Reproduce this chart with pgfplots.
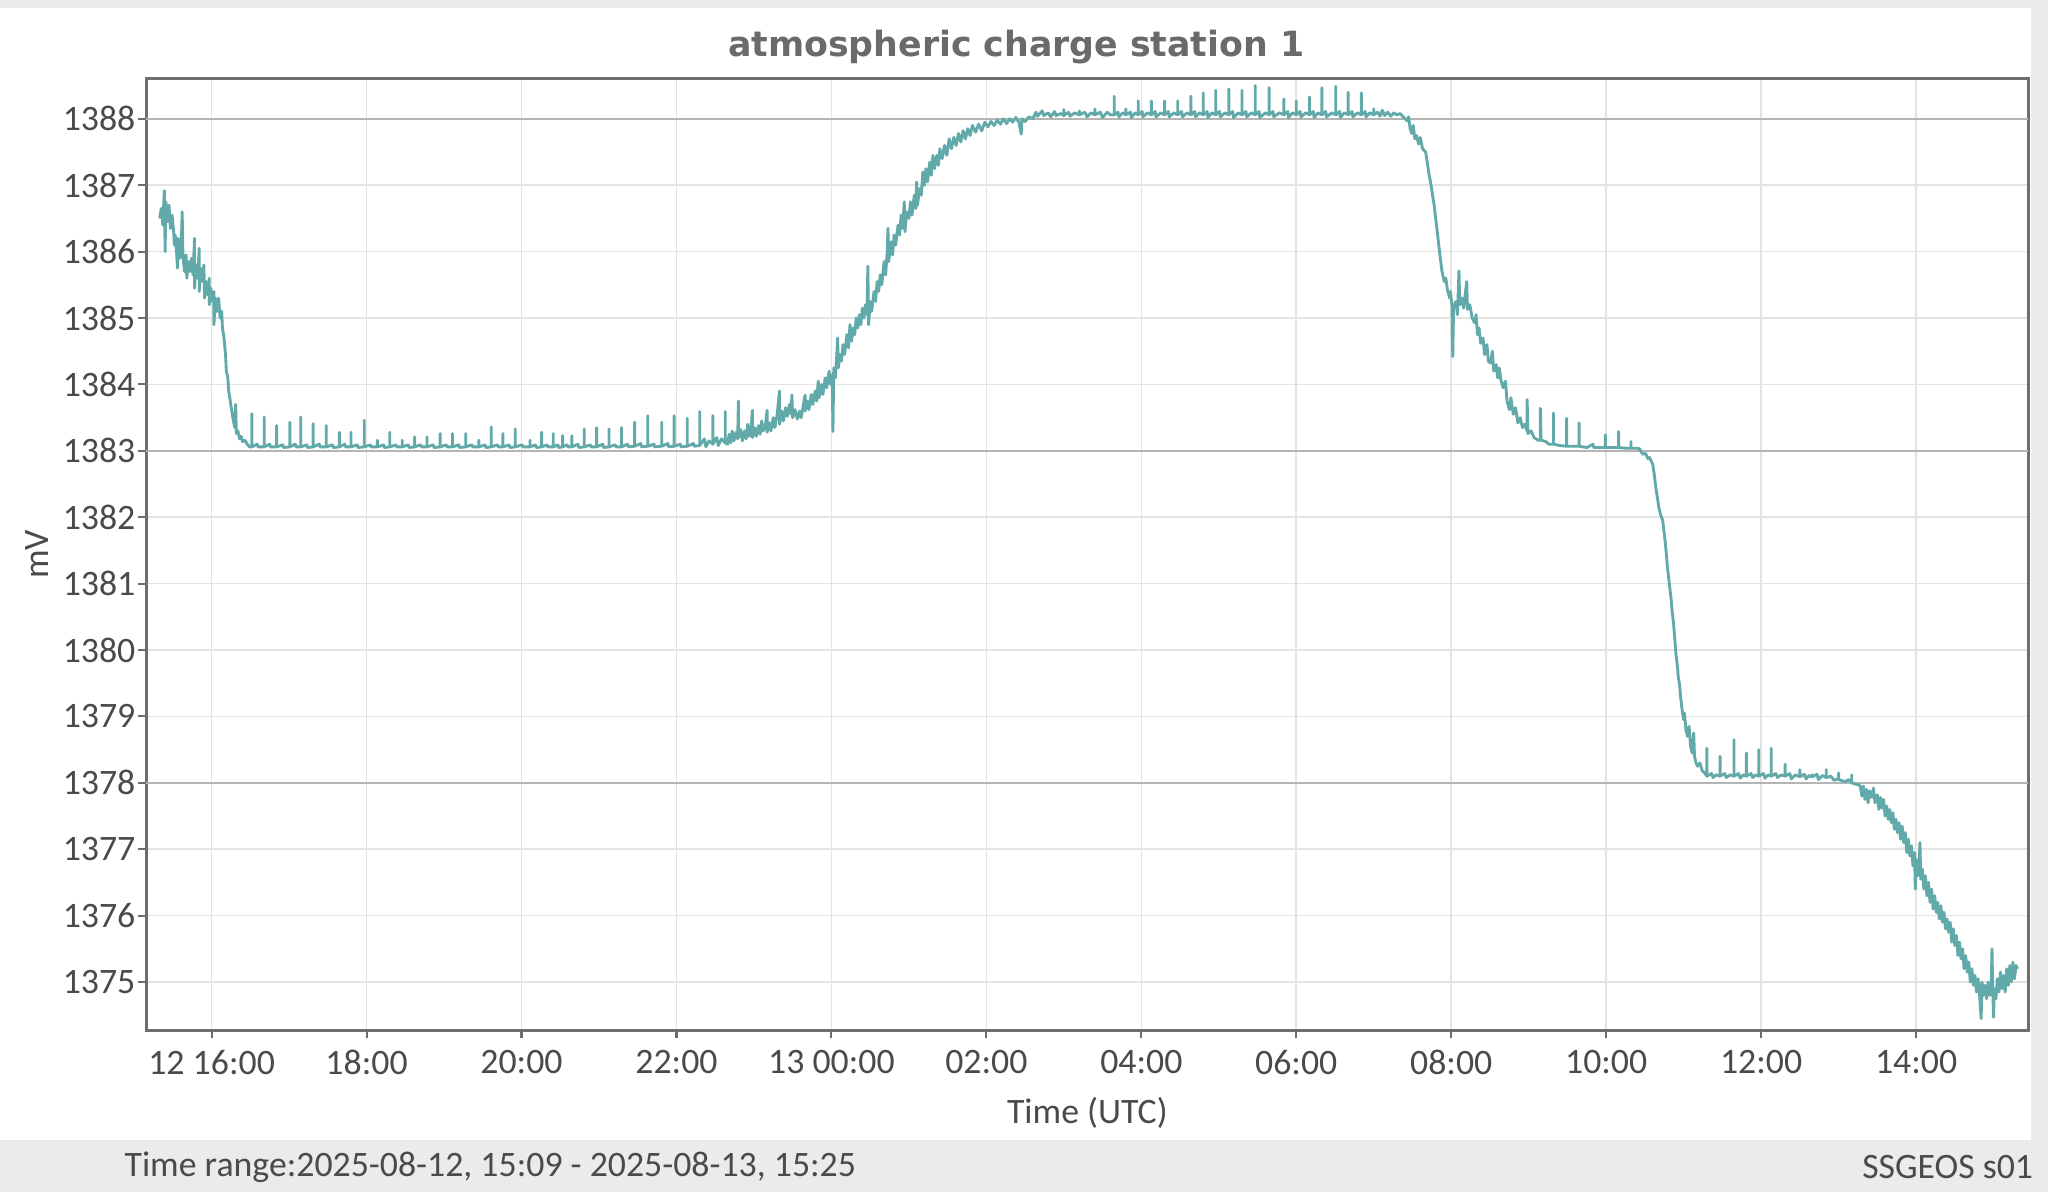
\documentclass[border=0pt]{standalone}
\usepackage{fontspec}
\usepackage{pgfplots}
\pgfplotsset{compat=1.18}
\setmainfont{Carlito}
\newfontfamily\titlefont{DejaVu Sans}

\definecolor{bggray}{HTML}{EBEBEB}
\definecolor{axgray}{HTML}{6E6E6E}
\definecolor{gridlight}{HTML}{E3E3E3}
\definecolor{gridmajor}{HTML}{B4B4B4}
\definecolor{labelgray}{HTML}{4A4A4A}
\definecolor{titlegray}{HTML}{6A6A6A}
\definecolor{trace}{HTML}{62A9A9}

\newcommand\lblfont{\fontsize{13.7}{16}\selectfont}

\begin{document}
\begin{tikzpicture}
\useasboundingbox (0,0) rectangle (784pt,456.5pt);
\fill[bggray] (0,0) rectangle (784pt,456.5pt);
\fill[white] (0,20pt) rectangle (777.5pt,453.5pt);
\node[font=\titlefont\bfseries\fontsize{13.3}{16}\selectfont, text=titlegray] at (389pt,438.5pt) {atmospheric charge station 1};
\node[anchor=west, font=\lblfont, text=labelgray, inner sep=0pt] at (47.5pt,9.8pt) {Time range:2025-08-12, 15:09 - 2025-08-13, 15:25};
\node[anchor=east, font=\lblfont, text=labelgray, inner sep=0pt] at (778.5pt,9.8pt) {SSGEOS s01};

\begin{axis}[
    at={(56pt,62pt)}, anchor=south west,
    scale only axis,
    width=720.5pt, height=364.5pt,
    xmin=15.157, xmax=39.45,
    ymin=1374.27, ymax=1388.61,
    xtick={16,18,...,38},
    xticklabels={12 16:00,18:00,20:00,22:00,13 00:00,02:00,04:00,06:00,08:00,10:00,12:00,14:00},
    ytick={1375,1376,...,1388},
    extra y ticks={1378,1383,1388},
    extra y tick labels={},
    extra y tick style={grid style={draw=gridmajor, line width=0.7pt}},
    scaled y ticks=false,
    /pgf/number format/.cd, 1000 sep={}, assume math mode=true,
    /pgfplots/.cd,
    tick align=outside, tick pos=left,
    major tick length=3pt,
    grid=major,
    grid style={draw=gridlight, line width=0.6pt},
    axis line style={draw=axgray, line width=1pt},
    tick style={draw=axgray, line width=0.8pt},
    ticklabel style={font=\lblfont, text=labelgray},
    yticklabel style={inner xsep=1pt},
    xticklabel style={yshift=-1pt},
    xlabel={Time (UTC)},
    ylabel={mV},
    label style={font=\lblfont, text=labelgray},
    xlabel style={at={(axis description cs:0.5,-0.0864)}, anchor=center},
    ylabel style={at={(axis description cs:-0.0583,0.5)}, anchor=center},
  ]
\addplot[trace, line width=1.1pt, line join=round] coordinates {
(15.33,1386.50) (15.35,1386.65) (15.37,1386.40) (15.39,1386.92) (15.40,1386.00) (15.41,1386.75)
(15.43,1386.45) (15.45,1386.70) (15.47,1386.35) (15.49,1386.55) (15.51,1386.30) (15.52,1386.10)
(15.53,1386.25) (15.55,1385.95) (15.56,1385.75) (15.57,1386.20) (15.59,1385.90) (15.61,1386.15)
(15.62,1386.60) (15.63,1385.95) (15.65,1385.70) (15.67,1385.95) (15.68,1385.60) (15.70,1385.85)
(15.72,1385.70) (15.74,1385.90) (15.76,1385.65) (15.78,1386.20) (15.78,1385.45) (15.80,1385.80)
(15.82,1385.60) (15.84,1386.05) (15.84,1385.40) (15.86,1385.75) (15.88,1385.55) (15.90,1385.80)
(15.91,1385.30) (15.93,1385.55) (15.95,1385.35) (15.97,1385.60) (15.97,1385.20) (15.99,1385.45)
(16.01,1385.25) (16.03,1385.40) (16.03,1384.90) (16.05,1385.30) (16.07,1385.10) (16.09,1385.30)
(16.11,1385.00) (16.13,1385.10) (16.14,1384.85) (16.16,1384.70) (16.18,1384.45) (16.19,1384.20)
(16.21,1384.10) (16.22,1383.90) (16.24,1383.76) (16.26,1383.60) (16.28,1383.46) (16.30,1383.35)
(16.31,1383.70) (16.32,1383.26) (16.34,1383.30) (16.36,1383.18) (16.38,1383.22) (16.40,1383.14)
(16.43,1383.16) (16.46,1383.10) (16.49,1383.06)
(16.52,1383.06) (16.52,1383.56) (16.52,1383.06) (16.59,1383.10) (16.60,1383.06)
(16.68,1383.06) (16.68,1383.51) (16.68,1383.06) (16.75,1383.10) (16.76,1383.06)
(16.84,1383.06) (16.84,1383.38) (16.84,1383.06) (16.92,1383.09) (16.93,1383.05)
(17.01,1383.06) (17.01,1383.43) (17.01,1383.06) (17.08,1383.10) (17.09,1383.06)
(17.15,1383.06) (17.15,1383.51) (17.15,1383.06) (17.23,1383.09) (17.24,1383.05)
(17.31,1383.06) (17.31,1383.41) (17.31,1383.06) (17.39,1383.10) (17.40,1383.06)
(17.48,1383.06) (17.48,1383.38) (17.48,1383.06) (17.56,1383.09) (17.57,1383.05)
(17.65,1383.06) (17.65,1383.28) (17.65,1383.06) (17.72,1383.10) (17.73,1383.06)
(17.80,1383.06) (17.80,1383.28) (17.80,1383.06) (17.88,1383.09) (17.89,1383.05)
(17.97,1383.06) (17.97,1383.46) (17.97,1383.06) (18.05,1383.09) (18.06,1383.06)
(18.14,1383.06) (18.14,1383.16) (18.14,1383.06) (18.22,1383.09) (18.23,1383.05)
(18.30,1383.06) (18.30,1383.28) (18.30,1383.06) (18.38,1383.09) (18.39,1383.06)
(18.46,1383.06) (18.46,1383.16) (18.46,1383.06) (18.54,1383.09) (18.55,1383.05)
(18.62,1383.06) (18.62,1383.21) (18.62,1383.06) (18.70,1383.09) (18.71,1383.06)
(18.78,1383.06) (18.78,1383.21) (18.78,1383.06) (18.86,1383.09) (18.87,1383.05)
(18.95,1383.06) (18.95,1383.26) (18.95,1383.06) (19.03,1383.09) (19.04,1383.06)
(19.11,1383.06) (19.11,1383.26) (19.11,1383.06) (19.19,1383.09) (19.20,1383.05)
(19.28,1383.06) (19.28,1383.26) (19.28,1383.06) (19.36,1383.09) (19.37,1383.06)
(19.45,1383.06) (19.45,1383.16) (19.45,1383.06) (19.53,1383.09) (19.54,1383.05)
(19.61,1383.06) (19.61,1383.36) (19.61,1383.06) (19.69,1383.09) (19.70,1383.06)
(19.76,1383.06) (19.76,1383.26) (19.76,1383.06) (19.84,1383.09) (19.85,1383.05)
(19.92,1383.06) (19.92,1383.33) (19.92,1383.06) (20.01,1383.09) (20.02,1383.06)
(20.11,1383.06) (20.11,1383.16) (20.11,1383.06) (20.18,1383.09) (20.19,1383.05)
(20.26,1383.06) (20.26,1383.28) (20.26,1383.06) (20.33,1383.09) (20.34,1383.06)
(20.41,1383.06) (20.41,1383.26) (20.41,1383.06) (20.47,1383.09) (20.48,1383.05)
(20.53,1383.06) (20.53,1383.23) (20.53,1383.06) (20.59,1383.09) (20.60,1383.06)
(20.65,1383.06) (20.65,1383.23) (20.65,1383.06) (20.73,1383.10) (20.74,1383.05)
(20.81,1383.06) (20.81,1383.33) (20.81,1383.06) (20.89,1383.09) (20.90,1383.06)
(20.97,1383.06) (20.97,1383.35) (20.97,1383.06) (21.05,1383.10) (21.06,1383.05)
(21.13,1383.06) (21.13,1383.33) (21.13,1383.06) (21.21,1383.09) (21.22,1383.06)
(21.29,1383.06) (21.29,1383.35) (21.29,1383.06) (21.37,1383.10) (21.38,1383.06)
(21.46,1383.07) (21.46,1383.43) (21.46,1383.07) (21.54,1383.11) (21.55,1383.06)
(21.63,1383.07) (21.63,1383.53) (21.63,1383.07) (21.71,1383.10) (21.72,1383.06)
(21.81,1383.07) (21.81,1383.43) (21.81,1383.07) (21.89,1383.11) (21.90,1383.06)
(21.97,1383.07) (21.97,1383.53) (21.97,1383.07) (22.05,1383.10) (22.06,1383.06)
(22.14,1383.07) (22.14,1383.49) (22.14,1383.07) (22.22,1383.11) (22.23,1383.07)
(22.30,1383.08) (22.30,1383.59) (22.30,1383.08) (22.36,1383.18) (22.38,1383.06) (22.42,1383.15)
(22.47,1383.10) (22.47,1383.53) (22.47,1383.10) (22.52,1383.20) (22.54,1383.08) (22.58,1383.18)
(22.63,1383.12) (22.63,1383.59) (22.63,1383.12)
(22.66,1383.10) (22.68,1383.25) (22.70,1383.12) (22.72,1383.30) (22.74,1383.15) (22.77,1383.28)
(22.79,1383.18) (22.80,1383.75) (22.80,1383.20) (22.83,1383.32) (22.85,1383.15) (22.88,1383.30)
(22.90,1383.18) (22.92,1383.40) (22.94,1383.22) (22.96,1383.30) (22.98,1383.61) (22.98,1383.20)
(23.01,1383.35) (23.03,1383.22) (23.06,1383.38) (23.08,1383.25) (23.10,1383.45) (23.12,1383.30)
(23.15,1383.40) (23.17,1383.61) (23.17,1383.28) (23.20,1383.42) (23.22,1383.30) (23.25,1383.50)
(23.27,1383.35) (23.30,1383.55) (23.33,1383.90) (23.33,1383.40) (23.36,1383.60) (23.38,1383.45)
(23.41,1383.65) (23.43,1383.52) (23.46,1383.70) (23.48,1383.55) (23.49,1383.84) (23.50,1383.50)
(23.53,1383.62) (23.56,1383.48) (23.59,1383.60) (23.61,1383.50) (23.64,1383.70) (23.66,1383.84)
(23.66,1383.60) (23.69,1383.75) (23.71,1383.62) (23.74,1383.85) (23.76,1383.70) (23.79,1383.90)
(23.81,1383.75) (23.83,1384.05) (23.84,1383.80) (23.87,1384.00) (23.89,1383.85) (23.92,1384.10)
(23.94,1383.95) (23.97,1384.20) (23.99,1384.00) (24.01,1384.15) (24.02,1383.29) (24.03,1384.25)
(24.05,1384.10) (24.07,1384.45) (24.08,1384.70) (24.09,1384.25) (24.11,1384.45) (24.13,1384.35)
(24.15,1384.60) (24.17,1384.45) (24.20,1384.75) (24.22,1384.55) (24.24,1384.90) (24.26,1384.65)
(24.28,1384.85) (24.30,1384.75) (24.32,1385.00) (24.34,1384.85) (24.36,1385.05) (24.38,1384.90)
(24.40,1385.15) (24.42,1385.00) (24.44,1385.20) (24.46,1385.05) (24.47,1385.78) (24.48,1384.90)
(24.50,1385.25) (24.52,1385.10) (24.55,1385.40) (24.57,1385.25) (24.59,1385.55) (24.61,1385.40)
(24.63,1385.65) (24.65,1385.50) (24.68,1385.85) (24.70,1385.65) (24.72,1386.00) (24.73,1386.35)
(24.74,1385.85) (24.77,1386.15) (24.79,1385.95) (24.81,1386.25) (24.83,1386.10) (24.86,1386.40)
(24.88,1386.25) (24.90,1386.55) (24.92,1386.35) (24.94,1386.75) (24.95,1386.30) (24.97,1386.60)
(25.00,1386.50) (25.02,1386.75) (25.04,1386.55) (25.07,1386.85) (25.09,1386.65) (25.10,1387.05)
(25.11,1386.70) (25.14,1386.95) (25.16,1386.85) (25.18,1387.20) (25.20,1387.00) (25.22,1387.25)
(25.24,1387.05) (25.27,1387.35) (25.29,1387.15) (25.31,1387.45) (25.33,1387.25) (25.36,1387.45)
(25.38,1387.30) (25.40,1387.55) (25.43,1387.40) (25.46,1387.60) (25.49,1387.45) (25.52,1387.70)
(25.55,1387.55) (25.58,1387.72) (25.61,1387.60) (25.64,1387.78) (25.67,1387.65) (25.70,1387.82)
(25.73,1387.70) (25.76,1387.85) (25.79,1387.75) (25.82,1387.90) (25.86,1387.80) (25.90,1387.92)
(25.94,1387.82) (25.98,1387.95) (26.02,1387.88) (26.06,1387.96) (26.10,1387.90) (26.14,1387.98)
(26.18,1387.92) (26.22,1388.00) (26.26,1387.93) (26.30,1388.00) (26.34,1387.95) (26.38,1388.02)
(26.42,1387.95) (26.45,1387.77) (26.46,1388.00) (26.50,1387.96) (26.55,1388.03) (26.60,1388.00)
(26.64,1388.10) (26.66,1388.04) (26.72,1388.12) (26.74,1388.05) (26.80,1388.09) (26.83,1388.03)
(26.88,1388.11) (26.90,1388.05) (26.96,1388.08) (27.00,1388.05) (27.00,1388.14) (27.00,1388.05)
(27.06,1388.10) (27.08,1388.04) (27.14,1388.09) (27.20,1388.06) (27.20,1388.12) (27.20,1388.06)
(27.27,1388.10) (27.30,1388.03) (27.35,1388.09) (27.40,1388.06) (27.40,1388.15) (27.40,1388.06)
(27.47,1388.10) (27.50,1388.02) (27.56,1388.10) (27.60,1388.06)
(27.65,1388.06) (27.65,1388.34) (27.65,1388.06) (27.70,1388.10) (27.71,1388.03) (27.76,1388.09)
(27.80,1388.06) (27.80,1388.15) (27.80,1388.06) (27.86,1388.10) (27.87,1388.02) (27.92,1388.09)
(27.96,1388.06) (27.96,1388.27) (27.96,1388.06) (28.01,1388.11) (28.02,1388.03) (28.08,1388.09)
(28.13,1388.06) (28.13,1388.27) (28.13,1388.06) (28.18,1388.11) (28.19,1388.03) (28.25,1388.09)
(28.30,1388.06) (28.30,1388.27) (28.30,1388.06) (28.35,1388.11) (28.36,1388.03) (28.42,1388.09)
(28.47,1388.06) (28.47,1388.27) (28.47,1388.06) (28.52,1388.11) (28.53,1388.03) (28.59,1388.09)
(28.64,1388.06) (28.64,1388.34) (28.64,1388.06) (28.69,1388.11) (28.70,1388.03) (28.75,1388.09)
(28.80,1388.06) (28.80,1388.39) (28.80,1388.06) (28.85,1388.11) (28.86,1388.02) (28.91,1388.09)
(28.96,1388.06) (28.96,1388.43) (28.96,1388.06) (29.01,1388.11) (29.02,1388.03) (29.08,1388.09)
(29.13,1388.06) (29.13,1388.45) (29.13,1388.06) (29.18,1388.11) (29.19,1388.02) (29.25,1388.09)
(29.30,1388.06) (29.30,1388.43) (29.30,1388.06) (29.35,1388.11) (29.36,1388.03) (29.42,1388.09)
(29.47,1388.06) (29.47,1388.50) (29.47,1388.06) (29.52,1388.11) (29.53,1388.02) (29.60,1388.09)
(29.65,1388.06) (29.65,1388.47) (29.65,1388.06) (29.70,1388.11) (29.71,1388.03) (29.78,1388.09)
(29.84,1388.06) (29.84,1388.30) (29.84,1388.06) (29.89,1388.11) (29.90,1388.02) (29.95,1388.09)
(30.00,1388.06) (30.00,1388.27) (30.00,1388.06) (30.05,1388.11) (30.06,1388.03) (30.12,1388.09)
(30.17,1388.06) (30.17,1388.33) (30.17,1388.06) (30.22,1388.11) (30.23,1388.02) (30.28,1388.09)
(30.33,1388.06) (30.33,1388.47) (30.33,1388.06) (30.38,1388.11) (30.39,1388.03) (30.46,1388.09)
(30.51,1388.06) (30.51,1388.49) (30.51,1388.06) (30.56,1388.11) (30.57,1388.02) (30.62,1388.09)
(30.67,1388.06) (30.67,1388.40) (30.67,1388.06) (30.72,1388.11) (30.73,1388.03) (30.79,1388.09)
(30.84,1388.06) (30.84,1388.39) (30.84,1388.06) (30.89,1388.11) (30.90,1388.03) (30.95,1388.09)
(31.00,1388.06) (31.00,1388.15) (31.00,1388.06) (31.05,1388.10) (31.08,1388.04) (31.11,1388.13)
(31.14,1388.05) (31.18,1388.10) (31.22,1388.04) (31.26,1388.09) (31.30,1388.06) (31.34,1388.08)
(31.39,1388.02) (31.43,1387.97) (31.45,1388.03) (31.47,1387.85) (31.49,1387.78) (31.51,1387.90)
(31.53,1387.70) (31.55,1387.75) (31.58,1387.62) (31.60,1387.72) (31.63,1387.55) (31.67,1387.50)
(31.69,1387.35) (31.71,1387.19) (31.74,1387.00) (31.76,1386.84) (31.78,1386.70) (31.80,1386.49)
(31.82,1386.30) (31.84,1386.09) (31.86,1385.90) (31.88,1385.71) (31.91,1385.55) (31.93,1385.60)
(31.95,1385.43) (31.98,1385.30) (31.99,1385.40) (32.01,1385.18) (32.02,1384.42) (32.03,1385.15)
(32.06,1385.25) (32.08,1385.05) (32.10,1385.71) (32.11,1385.20) (32.14,1385.30) (32.16,1385.15)
(32.18,1385.35) (32.20,1385.55) (32.21,1385.13) (32.24,1385.20) (32.27,1385.00) (32.30,1384.93)
(32.32,1385.05) (32.34,1384.75) (32.36,1384.85) (32.38,1384.62) (32.41,1384.70) (32.43,1384.45)
(32.46,1384.60) (32.48,1384.35) (32.51,1384.32) (32.53,1384.50) (32.55,1384.20) (32.58,1384.30)
(32.60,1384.10) (32.62,1384.25) (32.64,1384.07) (32.67,1383.95) (32.70,1384.05) (32.72,1383.75)
(32.75,1383.62) (32.77,1383.80) (32.80,1383.55) (32.83,1383.65) (32.86,1383.42) (32.89,1383.50)
(32.92,1383.35) (32.95,1383.40) (32.98,1383.30) (32.98,1383.77) (32.99,1383.26) (33.03,1383.30)
(33.07,1383.20) (33.12,1383.16) (33.15,1383.16) (33.15,1383.64) (33.16,1383.16) (33.22,1383.14)
(33.26,1383.10) (33.32,1383.10) (33.32,1383.57) (33.32,1383.10) (33.40,1383.08) (33.49,1383.07)
(33.49,1383.49) (33.49,1383.07) (33.56,1383.07) (33.65,1383.07) (33.65,1383.42) (33.65,1383.07)
(33.75,1383.05) (33.83,1383.10) (33.84,1383.05) (33.90,1383.05) (33.99,1383.05) (33.99,1383.24)
(33.99,1383.05) (34.08,1383.05) (34.16,1383.05) (34.16,1383.29) (34.16,1383.05) (34.25,1383.04)
(34.32,1383.04) (34.32,1383.14) (34.32,1383.04) (34.40,1383.04) (34.43,1383.03) (34.47,1382.95)
(34.51,1382.96) (34.54,1382.88) (34.56,1382.90) (34.58,1382.85) (34.60,1382.80) (34.62,1382.65)
(34.64,1382.45) (34.66,1382.30) (34.68,1382.15) (34.70,1382.05) (34.73,1381.95) (34.74,1381.85)
(34.76,1381.65) (34.78,1381.40) (34.79,1381.25) (34.81,1381.05) (34.82,1380.95) (34.84,1380.75)
(34.85,1380.60) (34.87,1380.40) (34.88,1380.25) (34.89,1380.10) (34.90,1379.95) (34.92,1379.75)
(34.93,1379.60) (34.95,1379.45) (34.96,1379.30) (34.98,1379.10) (35.00,1378.95) (35.01,1379.05)
(35.03,1378.80) (35.05,1378.70) (35.07,1378.85) (35.09,1378.55) (35.11,1378.45) (35.13,1378.75)
(35.14,1378.40) (35.16,1378.30) (35.18,1378.25) (35.21,1378.30) (35.24,1378.18) (35.27,1378.15)
(35.30,1378.10) (35.30,1378.52) (35.30,1378.10) (35.36,1378.14) (35.38,1378.08) (35.42,1378.12)
(35.47,1378.10) (35.47,1378.40) (35.47,1378.10) (35.53,1378.14) (35.55,1378.08) (35.60,1378.12)
(35.65,1378.10) (35.65,1378.65) (35.65,1378.10) (35.71,1378.14) (35.73,1378.07) (35.77,1378.12)
(35.81,1378.10) (35.81,1378.45) (35.81,1378.10) (35.87,1378.14) (35.89,1378.08) (35.93,1378.12)
(35.97,1378.10) (35.97,1378.50) (35.97,1378.10) (36.03,1378.14) (36.05,1378.07) (36.09,1378.12)
(36.13,1378.10) (36.13,1378.52) (36.13,1378.10) (36.19,1378.14) (36.21,1378.08) (36.26,1378.12)
(36.31,1378.10) (36.31,1378.28) (36.31,1378.10) (36.37,1378.14) (36.39,1378.06) (36.44,1378.12)
(36.50,1378.09) (36.50,1378.20) (36.50,1378.09) (36.56,1378.13) (36.58,1378.06) (36.62,1378.11)
(36.66,1378.09) (36.66,1378.12) (36.66,1378.09) (36.72,1378.13) (36.74,1378.05) (36.79,1378.11)
(36.84,1378.08) (36.84,1378.20) (36.84,1378.08) (36.90,1378.10) (36.94,1378.04) (37.00,1378.06)
(37.00,1378.15) (37.00,1378.05) (37.05,1378.03) (37.09,1378.02) (37.13,1378.05) (37.17,1378.00)
(37.17,1378.12) (37.17,1378.00) (37.22,1377.98) (37.26,1377.97)
(37.28,1377.95) (37.30,1377.80) (37.32,1377.95) (37.34,1377.75) (37.36,1377.90) (37.38,1377.70)
(37.40,1377.88) (37.43,1377.78) (37.45,1377.92) (37.47,1377.70) (37.50,1377.82) (37.52,1377.60)
(37.54,1377.78) (37.56,1377.62) (37.58,1377.75) (37.60,1377.50) (37.62,1377.65) (37.64,1377.45)
(37.66,1377.60) (37.68,1377.40) (37.70,1377.55) (37.72,1377.30) (37.74,1377.45) (37.76,1377.25)
(37.78,1377.40) (37.80,1377.15) (37.82,1377.35) (37.84,1377.10) (37.86,1377.25) (37.88,1376.95)
(37.90,1377.15) (37.92,1376.90) (37.94,1377.05) (37.96,1376.75) (37.98,1376.95) (37.99,1376.40)
(38.00,1376.85) (38.02,1376.60) (38.04,1376.80) (38.05,1377.10) (38.06,1376.55) (38.08,1376.70)
(38.10,1376.40) (38.12,1376.60) (38.14,1376.30) (38.16,1376.50) (38.18,1376.20) (38.20,1376.40)
(38.22,1376.10) (38.24,1376.30) (38.26,1376.05) (38.28,1376.20) (38.30,1375.95) (38.32,1376.15)
(38.34,1375.90) (38.36,1376.05) (38.38,1375.80) (38.40,1375.95) (38.42,1375.75) (38.44,1375.90)
(38.46,1375.60) (38.48,1375.80) (38.50,1375.55) (38.52,1375.70) (38.54,1375.40) (38.56,1375.60)
(38.58,1375.35) (38.60,1375.50) (38.62,1375.20) (38.64,1375.40) (38.66,1375.15) (38.68,1375.30)
(38.70,1375.00) (38.72,1375.20) (38.74,1374.95) (38.76,1375.10) (38.78,1374.85) (38.80,1375.05)
(38.82,1374.80) (38.84,1374.45) (38.85,1375.00) (38.87,1374.80) (38.89,1374.95) (38.91,1374.75)
(38.93,1375.00) (38.95,1374.80) (38.97,1374.95) (38.98,1375.50) (38.99,1374.85) (39.00,1374.47)
(39.01,1374.90) (39.03,1374.75) (39.05,1375.05) (39.07,1374.85) (39.09,1375.15) (39.11,1374.90)
(39.13,1375.10) (39.15,1374.85) (39.17,1375.20) (39.19,1374.95) (39.21,1375.25) (39.23,1375.00)
(39.25,1375.30) (39.27,1375.05) (39.29,1375.25) (39.31,1375.20)
};
\end{axis}
\end{tikzpicture}
\end{document}
